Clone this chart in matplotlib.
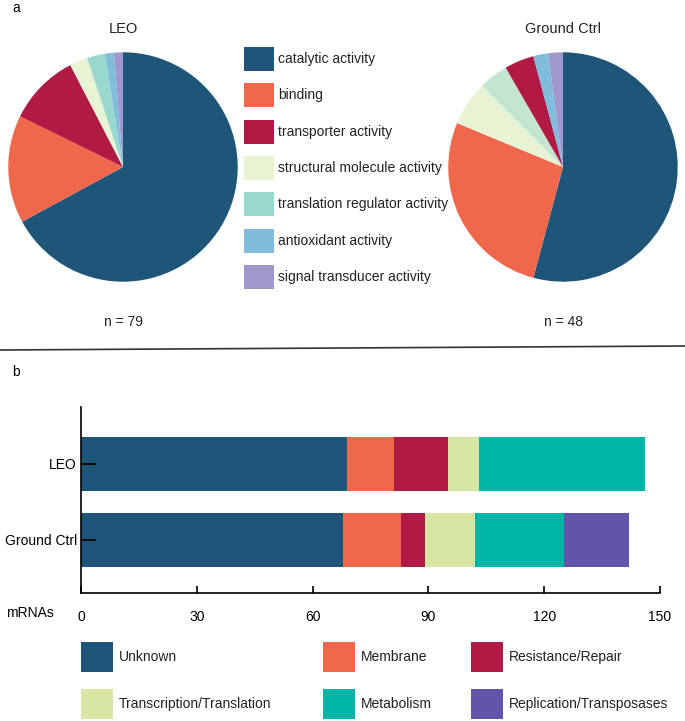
import matplotlib
matplotlib.use('Agg')
import matplotlib.pyplot as plt
from matplotlib.patches import Rectangle
from matplotlib.lines import Line2D
import numpy as np

plt.rcParams['font.family'] = ['Liberation Sans', 'DejaVu Sans']
plt.rcParams['font.size'] = 10

# ---- panel a : molecular function pies
functions = ['catalytic activity', 'binding', 'transporter activity',
             'structural molecule activity', 'translation regulator activity',
             'antioxidant activity', 'signal transducer activity']
func_colors = ['#1f5579', '#f0674b', '#b01a45', '#e8f3d3', '#99d8cc', '#80bcdc', '#a097ca']

leo_order = ['catalytic activity', 'binding', 'transporter activity',
             'structural molecule activity', 'translation regulator activity',
             'antioxidant activity', 'signal transducer activity']
leo_counts = [53, 12, 8, 2, 2, 1, 1]

ground_order = ['catalytic activity', 'binding', 'structural molecule activity',
                'translation regulator activity', 'transporter activity',
                'antioxidant activity', 'signal transducer activity']
ground_counts = [26, 13, 3, 2, 2, 1, 1]

# ---- panel b : mRNA categories
samples = ['LEO', 'Ground Ctrl']
mrna_cats = ['Unknown', 'Membrane', 'Resistance/Repair',
             'Transcription/Translation', 'Metabolism', 'Replication/Transposases']
mrna_colors = ['#1f5579', '#f0674b', '#b01a45', '#d7e6a3', '#00b5a6', '#6055a8']
leo_mrna = [69, 12, 14, 8, 43, 0]
ground_mrna = [68, 15, 6, 13, 23, 17]
xticks = [0, 30, 60, 90, 120, 150]

W, H = 685, 721
fig = plt.figure(figsize=(W / 100, H / 100), dpi=100)


def fx(px):
    return px / W


def fy(py):
    return 1 - py / H


def pie_panel(cx, title, order, counts, ntext, overrides=None):
    r = 117
    ax = fig.add_axes([fx(cx - r), fy(167 + r), 2 * r / W, 2 * r / H])
    cmap = dict(zip(functions, func_colors))
    if overrides:
        cmap.update(overrides)
    ax.pie(counts, colors=[cmap[o] for o in order], startangle=90,
           counterclock=False, radius=1, wedgeprops=dict(linewidth=0))
    ax.set_xlim(-1.02, 1.02)
    ax.set_ylim(-1.02, 1.02)
    ax.set_aspect('equal')
    ax.axis('off')
    fig.text(fx(cx), fy(29), title, ha='center', va='center', fontsize=10.5, color='#222222')
    fig.text(fx(cx), fy(322), ntext, ha='center', va='center', fontsize=10, color='#222222')


pie_panel(123, 'LEO', leo_order, leo_counts, 'n = %d' % sum(leo_counts))
pie_panel(563, 'Ground Ctrl', ground_order, ground_counts, 'n = %d' % sum(ground_counts),
          overrides={'translation regulator activity': '#c5e5d3'})

# pie legend
for i, (lab, col) in enumerate(zip(functions, func_colors)):
    yc = 59 + 36.3 * i
    fig.patches.append(Rectangle((fx(244), fy(yc + 12)), 30 / W, 24 / H,
                                 transform=fig.transFigure, facecolor=col, edgecolor='none'))
    fig.text(fx(278), fy(yc), lab, ha='left', va='center', fontsize=10, color='#222222')

fig.text(fx(12), fy(8), 'a', ha='left', va='center', fontsize=10)
fig.text(fx(12), fy(372), 'b', ha='left', va='center', fontsize=10)
fig.add_artist(Line2D([0, 1], [fy(350), fy(346)], color='#333333', lw=1.2,
                      transform=fig.transFigure))

# ---- bar chart
ax = fig.add_axes([fx(81), fy(593), 579 / W, 186 / H])
ypos = [1, 0]
data = np.array([leo_mrna, ground_mrna])
left = np.zeros(2)
for j, (cat, col) in enumerate(zip(mrna_cats, mrna_colors)):
    ax.barh(ypos, data[:, j], left=left, height=0.71, color=col, edgecolor='none')
    left += data[:, j]

ax.set_xlim(0, 150)
ax.set_ylim(-0.70, 1.75)
ax.set_yticks(ypos)
ax.set_yticklabels(samples)
ax.set_xticks(xticks)
ax.tick_params(axis='y', direction='in', length=11, width=1.2, pad=3, labelsize=10)
ax.tick_params(axis='x', direction='in', length=5, width=1.2, pad=12, labelsize=10)
for s in ['top', 'right']:
    ax.spines[s].set_visible(False)
for s in ['left', 'bottom']:
    ax.spines[s].set_linewidth(1.2)
fig.text(fx(6), fy(613), 'mRNAs', ha='left', va='center', fontsize=10)

# bar legend
leg_x = [81, 323, 471]
leg_y = [657, 704]
for k, (cat, col) in enumerate(zip(mrna_cats, mrna_colors)):
    x0 = leg_x[k % 3]
    yc = leg_y[k // 3]
    fig.patches.append(Rectangle((fx(x0), fy(yc + 15)), 32 / W, 30 / H,
                                 transform=fig.transFigure, facecolor=col, edgecolor='none'))
    fig.text(fx(x0 + 38), fy(yc), cat, ha='left', va='center', fontsize=10, color='#222222')

fig.savefig('out.png', dpi=100)
